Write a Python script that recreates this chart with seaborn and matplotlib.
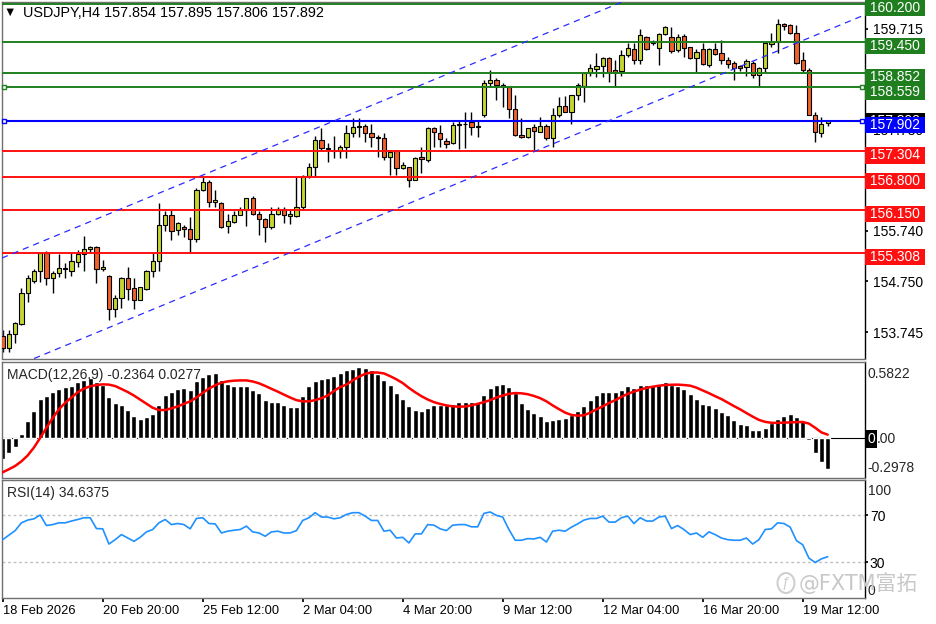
import numpy as np
import pandas as pd
import matplotlib
matplotlib.use("Agg")
import matplotlib.pyplot as plt
from matplotlib.patches import Ellipse
import seaborn as sns

sns.set_theme(style="white")
plt.rcParams['font.family'] = ['Liberation Sans', 'DejaVu Sans', 'Noto Sans CJK SC']

symbol = "USDJPY,H4"
last_ohlc = [157.854, 157.895, 157.806, 157.892]

# H4 candles (oldest first)
opens = [153.67, 153.44, 153.71, 153.91, 154.52, 154.75, 154.94, 155.31, 154.81, 154.90,
         155.00, 154.95, 155.13, 155.28, 155.38, 155.42, 154.98, 154.86, 154.20, 154.41,
         154.81, 154.61, 154.38, 154.59, 154.95, 155.15, 155.85, 156.05, 155.76, 155.81,
         155.77, 155.57, 156.54, 156.69, 156.31, 156.28, 155.83, 155.92, 156.06, 156.15,
         156.38, 156.07, 155.97, 155.82, 156.07, 156.16, 156.04, 156.03, 156.20, 156.82,
         157.00, 157.53, 157.36, 157.33, 157.30, 157.39, 157.67, 157.79, 157.81, 157.67,
         157.58, 157.56, 157.19, 157.30, 156.97, 157.00, 156.74, 157.20, 157.13, 157.76,
         157.67, 157.51, 157.46, 157.83, 157.85, 157.87, 157.79, 158.02, 158.64, 158.71,
         158.61, 158.56, 158.13, 157.62, 157.59, 157.79, 157.69, 157.80, 157.57, 158.02,
         158.20, 158.08, 158.41, 158.59, 158.85, 158.92, 158.98, 159.13, 158.90, 158.89,
         159.20, 159.31, 159.10, 159.55, 159.44, 159.33, 159.62, 159.55, 159.30, 159.57,
         159.35, 159.13, 159.31, 159.00, 159.31, 159.24, 159.10, 159.05, 158.98, 158.97,
         159.05, 158.80, 158.94, 159.42, 159.46, 159.81, 159.79, 159.64, 159.10, 158.90,
         158.02, 157.66, 157.854]
highs = [153.79, 153.79, 153.95, 154.61, 154.87, 154.99, 155.33, 155.35, 154.94, 155.28,
         155.11, 155.30, 155.36, 155.64, 155.44, 155.44, 155.17, 154.87, 154.48, 154.83,
         155.02, 154.82, 154.64, 154.97, 155.31, 156.28, 156.12, 156.15, 155.92, 155.85,
         156.02, 156.58, 156.80, 156.74, 156.54, 156.31, 156.08, 156.12, 156.20, 156.39,
         156.43, 156.12, 155.99, 156.21, 156.20, 156.20, 156.16, 156.80, 156.84, 157.07,
         157.61, 157.76, 157.46, 157.61, 157.43, 157.82, 157.95, 157.95, 157.85, 157.85,
         157.62, 157.66, 157.33, 157.33, 157.10, 157.00, 157.20, 157.39, 157.79, 157.78,
         157.82, 157.56, 157.87, 157.90, 158.08, 158.08, 157.92, 158.71, 158.90, 158.74,
         158.65, 158.56, 158.41, 157.95, 157.77, 157.84, 157.97, 157.85, 158.15, 158.38,
         158.39, 158.42, 158.64, 158.87, 159.03, 159.23, 159.16, 159.15, 159.10, 159.30,
         159.44, 159.43, 159.70, 159.57, 159.50, 159.63, 159.77, 159.75, 159.62, 159.61,
         159.36, 159.31, 159.43, 159.33, 159.44, 159.49, 159.16, 159.07, 159.00, 159.11,
         159.07, 158.97, 159.45, 159.63, 159.90, 159.83, 159.81, 159.79, 159.26, 158.94,
         158.08, 157.97, 157.895]
lows = [153.36, 153.36, 153.53, 153.89, 154.33, 154.71, 154.73, 154.67, 154.52, 154.84,
        154.81, 154.85, 155.03, 154.94, 155.30, 154.71, 154.94, 153.99, 154.05, 154.22,
        154.38, 154.20, 154.37, 154.58, 154.84, 154.94, 155.74, 155.56, 155.66, 155.62,
        155.33, 155.51, 156.53, 156.21, 156.21, 155.79, 155.69, 155.89, 156.05, 155.83,
        156.05, 155.66, 155.51, 155.77, 156.05, 155.89, 155.87, 156.02, 156.17, 156.77,
        156.80, 157.30, 157.10, 157.17, 157.17, 157.17, 157.59, 157.59, 157.49, 157.39,
        157.20, 157.13, 156.84, 156.84, 156.95, 156.61, 156.73, 156.87, 157.10, 157.39,
        157.39, 157.36, 157.45, 157.35, 157.36, 157.62, 157.59, 157.98, 158.56, 158.31,
        158.18, 157.95, 157.61, 157.57, 157.57, 157.30, 157.68, 157.53, 157.39, 157.98,
        158.08, 157.84, 158.31, 158.28, 158.79, 158.77, 158.77, 158.67, 158.57, 158.79,
        159.16, 159.03, 159.02, 159.30, 159.40, 159.00, 159.60, 159.24, 159.26, 159.16,
        159.11, 158.87, 159.00, 158.97, 159.20, 159.02, 158.94, 158.71, 158.89, 158.79,
        158.74, 158.56, 158.87, 159.36, 159.23, 159.69, 159.62, 159.02, 158.87, 158.02,
        157.49, 157.59, 157.806]
closes = [153.44, 153.71, 153.92, 154.52, 154.81, 154.95, 155.30, 154.81, 154.90, 155.00,
          154.98, 155.15, 155.28, 155.38, 155.42, 154.98, 155.03, 154.20, 154.41, 154.81,
          154.60, 154.38, 154.63, 154.95, 155.15, 155.85, 156.05, 155.74, 155.89, 155.77,
          155.57, 156.54, 156.69, 156.31, 156.35, 155.82, 155.93, 156.06, 156.15, 156.38,
          156.07, 155.97, 155.82, 156.07, 156.16, 156.05, 156.08, 156.20, 156.82, 157.00,
          157.53, 157.36, 157.35, 157.30, 157.39, 157.67, 157.79, 157.81, 157.67, 157.58,
          157.57, 157.19, 157.28, 156.97, 157.03, 156.74, 157.17, 157.15, 157.76, 157.69,
          157.54, 157.45, 157.83, 157.85, 157.84, 157.79, 157.80, 158.64, 158.71, 158.61,
          158.56, 158.13, 157.62, 157.58, 157.76, 157.71, 157.80, 157.56, 158.02, 158.20,
          158.08, 158.41, 158.61, 158.85, 158.95, 158.98, 159.13, 158.87, 158.87, 159.20,
          159.33, 159.10, 159.60, 159.31, 159.46, 159.61, 159.74, 159.28, 159.56, 159.33,
          159.13, 159.26, 159.03, 159.31, 159.22, 159.09, 159.03, 158.94, 158.94, 159.07,
          158.80, 158.94, 159.44, 159.46, 159.81, 159.77, 159.64, 159.05, 158.90, 158.02,
          157.69, 157.85, 157.892]

# MACD(12,26,9): histogram and signal line
macd_hist = [-0.156, -0.111, -0.065, 0.036, 0.129, 0.210, 0.299, 0.324, 0.352, 0.377,
             0.390, 0.400, 0.428, 0.440, 0.458, 0.425, 0.408, 0.314, 0.269, 0.251,
             0.218, 0.167, 0.150, 0.162, 0.187, 0.256, 0.332, 0.352, 0.377, 0.383,
             0.370, 0.433, 0.466, 0.491, 0.496, 0.446, 0.415, 0.400, 0.395, 0.395,
             0.364, 0.345, 0.294, 0.276, 0.273, 0.251, 0.235, 0.235, 0.319, 0.395,
             0.433, 0.451, 0.458, 0.476, 0.496, 0.516, 0.527, 0.542, 0.534, 0.516,
             0.491, 0.440, 0.408, 0.345, 0.299, 0.243, 0.218, 0.205, 0.231, 0.251,
             0.251, 0.256, 0.263, 0.276, 0.273, 0.273, 0.273, 0.332, 0.383, 0.408,
             0.415, 0.387, 0.345, 0.269, 0.225, 0.193, 0.167, 0.129, 0.137, 0.150,
             0.155, 0.180, 0.210, 0.248, 0.294, 0.326, 0.352, 0.352, 0.352, 0.370,
             0.400, 0.383, 0.408, 0.408, 0.408, 0.415, 0.428, 0.408, 0.395, 0.375,
             0.337, 0.299, 0.263, 0.251, 0.231, 0.200, 0.180, 0.137, 0.112, 0.104,
             0.066, 0.061, 0.079, 0.117, 0.147, 0.172, 0.187, 0.159, 0.129, -0.010,
             -0.111, -0.182, -0.2364]
macd_signal = [-0.258, -0.235, -0.210, -0.175, -0.130, -0.070, 0.003, 0.080, 0.155, 0.220,
               0.270, 0.310, 0.350, 0.378, 0.395, 0.405, 0.410, 0.408, 0.397, 0.375,
               0.352, 0.325, 0.294, 0.262, 0.232, 0.215, 0.215, 0.228, 0.242, 0.262,
               0.281, 0.310, 0.345, 0.378, 0.403, 0.423, 0.433, 0.438, 0.440, 0.440,
               0.432, 0.418, 0.398, 0.376, 0.355, 0.332, 0.310, 0.290, 0.281, 0.281,
               0.290, 0.305, 0.325, 0.360, 0.390, 0.408, 0.440, 0.468, 0.490, 0.500,
               0.500, 0.493, 0.472, 0.448, 0.420, 0.383, 0.350, 0.320, 0.295, 0.275,
               0.261, 0.250, 0.243, 0.240, 0.242, 0.250, 0.262, 0.275, 0.290, 0.310,
               0.325, 0.338, 0.344, 0.342, 0.335, 0.322, 0.305, 0.281, 0.250, 0.222,
               0.195, 0.178, 0.172, 0.175, 0.195, 0.220, 0.243, 0.268, 0.290, 0.315,
               0.338, 0.355, 0.370, 0.383, 0.392, 0.400, 0.405, 0.407, 0.408, 0.405,
               0.400, 0.385, 0.364, 0.343, 0.320, 0.298, 0.272, 0.245, 0.220, 0.192,
               0.165, 0.140, 0.125, 0.118, 0.117, 0.119, 0.121, 0.123, 0.124, 0.112,
               0.080, 0.045, 0.0277]

# RSI(14)
rsi = [49.1, 52.9, 56.8, 63.4, 65.7, 66.8, 70.0, 61.1, 61.9, 63.4,
       63.4, 64.9, 66.2, 67.7, 67.7, 58.5, 58.3, 45.4, 49.1, 53.4,
       50.5, 47.7, 51.1, 55.7, 57.7, 63.4, 66.2, 61.9, 62.8, 61.9,
       58.3, 67.1, 67.7, 62.8, 62.5, 54.8, 56.3, 57.1, 57.7, 60.6,
       55.7, 54.8, 52.0, 55.7, 56.3, 54.8, 54.8, 56.8, 65.4, 67.7,
       72.0, 68.3, 68.3, 66.8, 67.7, 70.5, 72.0, 72.0, 69.1, 65.4,
       65.4, 56.3, 57.1, 50.5, 51.1, 46.3, 54.0, 54.0, 61.9, 61.4,
       58.3, 56.8, 61.4, 61.9, 61.9, 60.0, 60.0, 71.4, 72.6, 69.7,
       68.3, 57.7, 48.6, 48.6, 50.0, 49.7, 51.1, 47.1, 56.3, 57.1,
       56.3, 59.7, 62.5, 65.7, 67.1, 67.1, 69.1, 64.0, 64.0, 67.7,
       69.1, 62.8, 67.7, 64.9, 64.9, 68.3, 69.1, 58.5, 61.1, 57.7,
       53.4, 54.8, 51.1, 55.7, 53.4, 50.5, 49.1, 48.6, 48.6, 50.5,
       45.4, 49.1, 57.7, 58.3, 63.4, 62.8, 59.7, 48.3, 44.8, 33.4,
       29.7, 32.8, 34.6375]

# drawn objects on the price chart
support_levels = [157.304, 156.800, 156.150, 155.308]
resistance_levels = [160.200, 159.450, 158.852, 158.559]
pivot_level = 157.902
channel_upper = [(-0.1, 155.205), (98.8, 160.225)]
channel_lower = [(4.85, 153.219), (137.5, 159.965)]

price_ticks = [153.745, 154.750, 155.740, 157.730, 159.715]
date_ticks = [0, 16, 32, 48, 64, 80, 96, 112, 128]
date_labels = ["18 Feb 2026", "20 Feb 20:00", "25 Feb 12:00", "2 Mar 04:00", "4 Mar 20:00",
               "9 Mar 12:00", "12 Mar 04:00", "16 Mar 20:00", "19 Mar 12:00"]

df = pd.DataFrame({"open": opens, "high": highs, "low": lows, "close": closes})
df["bar"] = np.arange(len(df))

BULL = "#c6d630"
BEAR = "#f0612c"
GREEN = "#1f7f1f"
RED = "#ff1010"
BLUE = "#0000ff"

W, H = 936, 624
fig = plt.figure(figsize=(W / 100, H / 100), dpi=100, facecolor="white")
left, width = 2 / W, 863 / W
ax = fig.add_axes([left, 1 - 358.5 / H, width, 356.5 / H])
ax2 = fig.add_axes([left, 1 - 477.5 / H, width, 115.8 / H])
ax3 = fig.add_axes([left, 1 - 597.5 / H, width, 117.8 / H])
xlim = (-0.11, 137.97)

# ---- price panel
up = df.close >= df.open
ax.vlines(df.bar, df.low, df.high, color="black", lw=1, zorder=2)
body_low = np.minimum(df.open, df.close)
body_h = np.maximum(np.abs(df.close - df.open), 0.002)
ax.bar(df.bar, body_h, bottom=body_low, width=0.66, color=np.where(up, BULL, BEAR),
       edgecolor="black", linewidth=0.8, zorder=3)

for lv in resistance_levels:
    ax.axhline(lv, color=GREEN, lw=1.4, zorder=4)
for lv in support_levels:
    ax.axhline(lv, color=RED, lw=1.4, zorder=4)
ax.axhline(pivot_level, color=BLUE, lw=1.5, zorder=4)

for lv, c in [(158.559, GREEN), (pivot_level, BLUE)]:
    ax.plot([0.002, 0.997], [lv, lv], transform=ax.get_yaxis_transform(), ls="none",
            marker="s", ms=3.5, mfc="white", mec=c, mew=1, zorder=5, clip_on=False)

for p1, p2 in [channel_upper, channel_lower]:
    ax.axline(p1, p2, color="#2b2bff", lw=0.9, ls=(0, (5, 4)), zorder=4)

ax.set_xlim(*xlim)
ax.set_ylim(153.228, 160.240)
ax.yaxis.tick_right()
ax.set_yticks(price_ticks)
ax.set_yticklabels([f"{t:.3f}" for t in price_ticks])
ax.tick_params(axis="y", right=True, length=2, pad=3.5, labelsize=10, colors="black")
ax.set_xticks([])


def level_box(lv, color, dy=-3):
    ax.annotate(f" {lv:.3f} ", xy=(1, lv), xycoords=("axes fraction", "data"),
                xytext=(0.8, dy), textcoords="offset points", ha="left", va="center",
                color="white", fontsize=10,
                bbox=dict(boxstyle="square,pad=0.08", fc=color, ec="none"),
                annotation_clip=False, zorder=10)


level_box(last_ohlc[3], "black", dy=0)
for lv in resistance_levels:
    level_box(lv, GREEN)
for lv in support_levels:
    level_box(lv, RED)
level_box(pivot_level, BLUE)

fig.text(10 / W, 1 - 13 / H, "▼", fontsize=9, va="center", ha="center", color="black")
fig.text(23 / W, 1 - 13 / H, symbol + " " + " ".join(f"{v:.3f}" for v in last_ohlc),
         fontsize=10.4, va="center", ha="left", color="black")

# ---- MACD panel
ax2.bar(df.bar, macd_hist, width=0.8, color="black", zorder=2)
sns.lineplot(x=df.bar, y=macd_signal, ax=ax2, color="#ff0000", linewidth=1.8, zorder=3)
ax2.axhline(0, color="black", lw=0.8, zorder=1)
ax2.set_xlim(*xlim)
ax2.set_ylim(-0.2978, 0.5822)
ax2.set_xticks([])
ax2.set_yticks([])
ax2.set_xlabel("")
ax2.set_ylabel("")
fig.text(7 / W, 1 - 375 / H, f"MACD(12,26,9) {macd_hist[-1]:.4f} {macd_signal[-1]:.4f}",
         fontsize=10, va="center", ha="left")
fig.text(868 / W, 1 - 373.5 / H, "0.5822", fontsize=10, va="center", ha="left")
fig.text(867 / W, 1 - 468 / H, "-0.2978", fontsize=10, va="center", ha="left")
fig.text(867.5 / W, 1 - 439 / H, "0", fontsize=10, va="center", ha="left", color="white",
         bbox=dict(boxstyle="square,pad=0.12", fc="black", ec="none"))
fig.text(876.5 / W, 1 - 439 / H, ".00", fontsize=10, va="center", ha="left")

# ---- RSI panel
ax3.axhline(70, color="#c0c0c0", lw=1, ls=(0, (2, 2)), zorder=1)
ax3.axhline(30, color="#c0c0c0", lw=1, ls=(0, (2, 2)), zorder=1)
sns.lineplot(x=df.bar, y=rsi, ax=ax3, color="#1e90ff", linewidth=1.2, zorder=3)
ax3.set_xlim(*xlim)
ax3.set_ylim(0, 100)
ax3.set_xlabel("")
ax3.set_ylabel("")
ax3.yaxis.tick_right()
ax3.set_yticks([70, 30])
ax3.set_yticklabels(["70", "30"])
ax3.tick_params(axis="y", right=True, length=2, pad=1.5, labelsize=10, colors="black")
ax3.set_xticks(date_ticks)
ax3.set_xticklabels(date_labels, ha="left")
ax3.tick_params(axis="x", bottom=True, length=3, pad=2.5, labelsize=9.3, colors="black")
fig.text(7 / W, 1 - 493 / H, f"RSI(14) {rsi[-1]:.4f}", fontsize=10, va="center", ha="left")
fig.text(868 / W, 1 - 491 / H, "100", fontsize=10, va="center", ha="left")
fig.text(868 / W, 1 - 591 / H, "0", fontsize=10, va="center", ha="left")

for a in (ax, ax2, ax3):
    for side in ("left", "top", "bottom"):
        a.spines[side].set_color("#707070")
        a.spines[side].set_linewidth(1)
    a.spines["right"].set_color("black")
    a.spines["right"].set_linewidth(1)
    a.set_facecolor("white")

# watermark
fig.patches.append(Ellipse((786 / W, 1 - 583 / H), 17 / W, 20 / H, transform=fig.transFigure,
                           fill=False, ec="#cfcfcf", lw=1.5, zorder=5))
fig.text(786 / W, 1 - 583 / H, "ƒ", fontsize=11, color="#cfcfcf", ha="center", va="center",
         zorder=5)
fig.text(799 / W, 1 - 583 / H, "@FXTM富拓", fontsize=15, color="#c8c8c8", ha="left",
         va="center", family=["DejaVu Sans", "Noto Sans CJK SC"], zorder=5)

fig.savefig("out.png", dpi=100, facecolor="white")
